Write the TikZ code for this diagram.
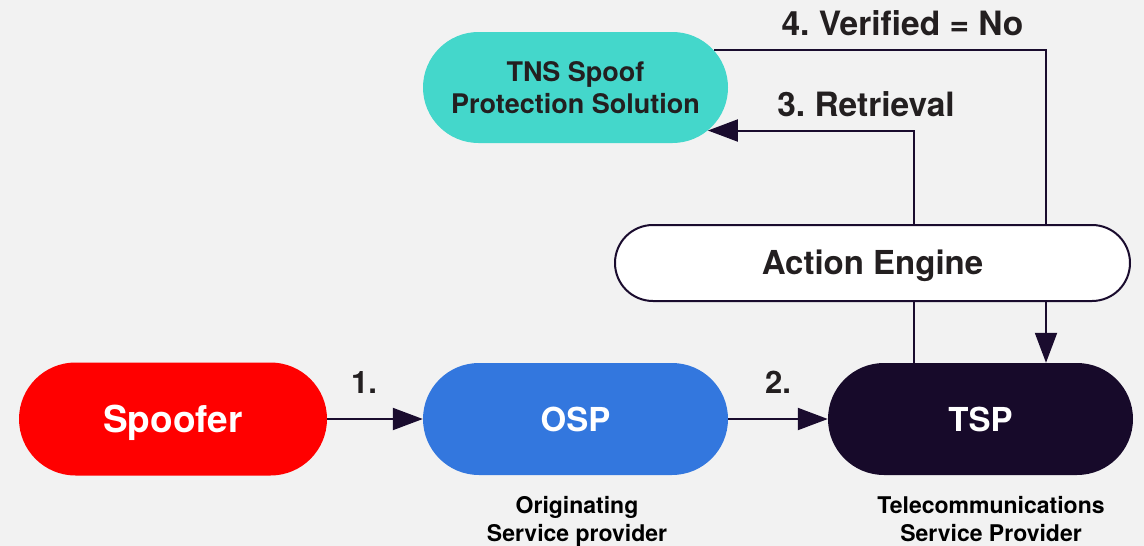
\documentclass[tikz,border=0pt]{standalone}
\usepackage{fontspec}
\setmainfont{TeX Gyre Heros}
\usetikzlibrary{arrows.meta,shapes.misc}
\definecolor{bg}{HTML}{F2F2F2}
\definecolor{spoofred}{HTML}{FF0000}
\definecolor{ospblue}{HTML}{3377DE}
\definecolor{tspdark}{HTML}{170A2A}
\definecolor{tnsteal}{HTML}{44D7CB}
\definecolor{linedark}{HTML}{1A0C2E}
\definecolor{txtdark}{HTML}{231F20}
\frenchspacing
\begin{document}
\begin{tikzpicture}[x=1pt,y=-1pt,
  pill/.style={rounded rectangle, inner sep=0pt},
  conn/.style={draw=linedark, line width=2pt},
  tip/.style={-{Triangle[length=30pt,width=22pt]}},
  lbl/.style={anchor=base, text=txtdark, font=\fontsize{33.5}{40}\selectfont\bfseries},
  numlbl/.style={anchor=base, text=txtdark, font=\fontsize{31}{36}\selectfont\bfseries},
  sub/.style={align=center, anchor=base, text=black, font=\fontsize{23}{28}\selectfont\bfseries}]
\fill[bg] (0,0) rectangle (1144,546);
\useasboundingbox (0,0) rectangle (1144,546);

\node[pill, fill=spoofred, text=white, minimum width=308pt, minimum height=113pt,
  font=\fontsize{37}{40}\selectfont\bfseries, text height=26.5pt, text depth=0pt] (spoofer) at (173,419) {Spoofer};
\node[pill, fill=ospblue, text=white, minimum width=305pt, minimum height=112pt,
  font=\fontsize{33}{40}\selectfont\bfseries, text height=24pt, text depth=0pt] (osp) at (575.5,419) {OSP};
\node[pill, fill=tspdark, text=white, minimum width=305pt, minimum height=112pt,
  font=\fontsize{33}{40}\selectfont\bfseries, text height=24pt, text depth=0pt] (tsp) at (980.5,419) {TSP};
\node[pill, fill=tnsteal, text=txtdark, minimum width=305pt, minimum height=111pt, align=center,
  font=\fontsize{27}{32.5}\selectfont\bfseries] (tns) at (575.5,87.5) {TNS Spoof\\Protection Solution};

\draw[conn,tip] (spoofer.east) -- (osp.west);
\draw[conn,tip] (osp.east) -- (tsp.west);
\draw[conn,tip] ([xshift=-66.5pt]tsp.north) |- (tns.-18.3);
\draw[conn,tip] (tns.15.2) -| ([xshift=65.5pt]tsp.north);

\node[pill, fill=white, draw=linedark, line width=2pt, minimum width=515pt, minimum height=76pt,
  text=txtdark, font=\fontsize{33}{38}\selectfont\bfseries, text height=23.7pt, text depth=0pt] (ae) at (872.5,263) {Action Engine};

\node[numlbl] (l1) at (364,393) {1.};
\node[numlbl] (l2) at (778,393) {2.};
\node[lbl] (l3) at (866,116) {3. Retrieval};
\node[lbl] (l4) at (902.5,35) {4. Verified = No};

\node[sub] (ospsub) at (577,541) {Originating\\Service provider};
\node[sub] (tspsub) at (991,541) {Telecommunications\\Service Provider};
\end{tikzpicture}
\end{document}
